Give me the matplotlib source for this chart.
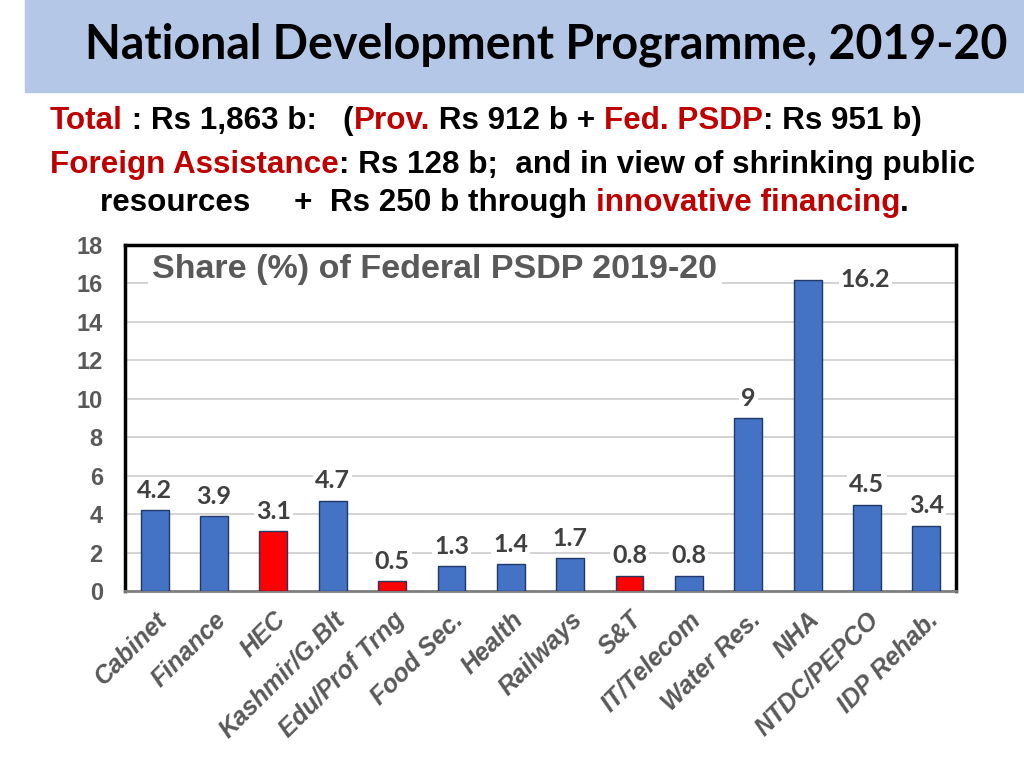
import matplotlib.pyplot as plt
from matplotlib.patches import Rectangle

categories = ['Cabinet', 'Finance', 'HEC', 'Kashmir/G.Blt', 'Edu/Prof Trng',
              'Food Sec.', 'Health', 'Railways', 'S&T', 'IT/Telecom',
              'Water Res.', 'NHA', 'NTDC/PEPCO', 'IDP Rehab.']
shares = [4.2, 3.9, 3.1, 4.7, 0.5, 1.3, 1.4, 1.7, 0.8, 0.8, 9, 16.2, 4.5, 3.4]
highlighted = ['HEC', 'Edu/Prof Trng', 'S&T']
yticks = [0, 2, 4, 6, 8, 10, 12, 14, 16, 18]

RED = '#c00000'
BLACK = 'black'
line1 = [('Total', RED), (' : Rs 1,863 b:   (', BLACK), ('Prov.', RED),
         (' Rs 912 b + ', BLACK), ('Fed. PSDP', RED), (': Rs 951 b)', BLACK)]
line2 = [('Foreign Assistance', RED),
         (': Rs 128 b;  and in view of shrinking public', BLACK)]
line3 = [('resources     +  Rs 250 b through ', BLACK),
         ('innovative financing', RED), ('.', BLACK)]

W, H = 1024, 768
fig = plt.figure(figsize=(W / 100, H / 100), dpi=100)
renderer = fig.canvas.get_renderer()

# header band + title
fig.patches.append(Rectangle((25 / W, 1 - 92 / H), 1, 92 / H,
                             transform=fig.transFigure, color='#b4c7e7', zorder=0))
fig.text(546 / W, 1 - 45 / H, 'National Development Programme, 2019-20',
         ha='center', va='center', family='Lato', fontweight='bold',
         fontsize=33.5, color='black')


def text_width(s, size):
    # width in pixels, trailing spaces counted by measuring against a bar glyph
    t = fig.text(0, 0, s + '|', fontsize=size, fontweight='bold',
                 family='Liberation Sans')
    w = t.get_window_extent(renderer).width
    t.remove()
    t = fig.text(0, 0, '|', fontsize=size, fontweight='bold',
                 family='Liberation Sans')
    w -= t.get_window_extent(renderer).width
    t.remove()
    return w


def colored_line(parts, x0, ybase, size=22.6):
    prefix = ''
    for s, c in parts:
        x = x0 + (text_width(prefix, size) if prefix else 0)
        fig.text(x / W, 1 - ybase / H, s, fontsize=size, fontweight='bold',
                 family='Liberation Sans', color=c, va='baseline')
        prefix += s


colored_line(line1, 50, 129)
colored_line(line2, 50, 173)
colored_line(line3, 100, 211)

# bar chart
ax = fig.add_axes([125 / W, 1 - 591 / H, (956 - 125) / W, (591 - 245) / H])
x = list(range(len(categories)))
colors = ['#ff0000' if c in highlighted else '#4472c4' for c in categories]
ax.bar(x, shares, width=0.47, color=colors, edgecolor='#1f3864',
       linewidth=1, zorder=3)
ax.set_xlim(-0.5, len(categories) - 0.5)
ax.set_ylim(0, 18)
ax.set_yticks(yticks, labels=[str(t) for t in yticks], fontsize=17,
              fontweight='bold', color='#595959', family='Liberation Sans')
ax.set_xticks(x, labels=categories, rotation=45, ha='right', va='top',
              rotation_mode='anchor', fontsize=18, fontweight='bold',
              fontstyle='italic', color='#595959', family='Liberation Sans')
ax.tick_params(axis='both', length=0)
ax.tick_params(axis='y', pad=16)
ax.tick_params(axis='x', pad=12)
ax.grid(axis='y', color='#d0d0d0', linewidth=1.3, zorder=0)
ax.set_axisbelow(True)
for side in ['left', 'top', 'right']:
    ax.spines[side].set_color('black')
    ax.spines[side].set_linewidth(2.5)
ax.spines['bottom'].set_color('#7f7f7f')
ax.spines['bottom'].set_linewidth(2)

for i, v in enumerate(shares):
    off = (58, 0) if v == max(shares) else (0, 20)
    ax.annotate(f'{v:g}', (i, v), xytext=off, textcoords='offset pixels',
                ha='center', va='center', family='Lato', fontweight='bold',
                fontsize=18, color='#404040', zorder=4,
                bbox=dict(facecolor='white', edgecolor='none', pad=1.5))

ax.text(0.373, 0.928, 'Share (%) of Federal PSDP 2019-20', transform=ax.transAxes,
        ha='center', va='center', family='Liberation Sans', fontweight='bold',
        fontsize=24.5, color='#595959', zorder=5,
        bbox=dict(facecolor='white', edgecolor='none', pad=3))

fig.savefig('out.png', dpi=100)
